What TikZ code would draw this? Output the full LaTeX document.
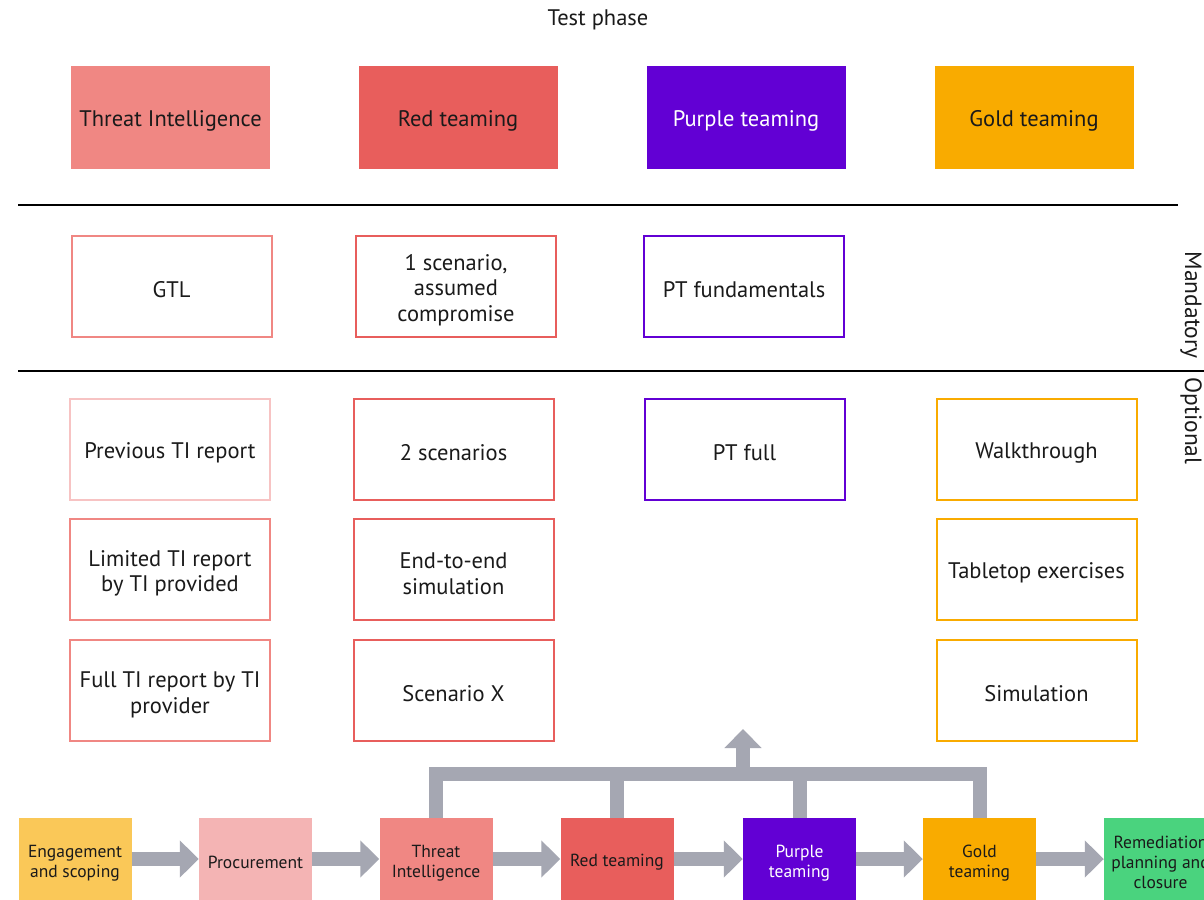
\documentclass[tikz,border=0pt]{standalone}
\usepackage{fontspec}
\setmainfont{PT Sans}
\usetikzlibrary{arrows.meta}
\definecolor{tiC}{HTML}{F08783}
\definecolor{tiL}{HTML}{F7C3C3}
\definecolor{redC}{HTML}{E85E5C}
\definecolor{purC}{HTML}{6200D4}
\definecolor{goldC}{HTML}{F9AB00}
\definecolor{engC}{HTML}{FAC858}
\definecolor{procC}{HTML}{F4B4B4}
\definecolor{remC}{HTML}{4AD37E}
\definecolor{arrC}{HTML}{A5A7B2}
\definecolor{txt}{HTML}{1A1A1A}
\newcommand{\mystrutA}{\rule{0pt}{24pt}}
\newcommand{\mystrutB}{\rule{0pt}{20pt}}
\begin{document}
\begin{tikzpicture}[x=1pt,y=-1pt,
  hdr/.style={rectangle, minimum width=199pt, minimum height=102pt, inner sep=0pt,
    font=\fontsize{22.5}{25.5}\selectfont, text=txt, align=center,
    execute at begin node={\rule{0pt}{23pt}}},
  opt/.style={rectangle, draw, line width=2pt, fill=white, minimum width=200pt,
    minimum height=101pt, inner sep=0pt, font=\fontsize{22.5}{25.5}\selectfont,
    text=txt, align=center, execute at begin node={\rule{0pt}{23pt}}},
  flow/.style={rectangle, minimum width=113pt, minimum height=82pt, inner sep=0pt,
    font=\fontsize{17.5}{20}\selectfont, text=txt, align=center,
    execute at begin node={\rule{0pt}{19pt}}},
  sep/.style={line width=1.3pt, black},
  lab/.style={font=\fontsize{22.5}{24}\selectfont, text=txt},
  rlab/.style={font=\fontsize{23.5}{24}\selectfont, text=txt, rotate=-90},
  flowarrow/.style={arrC, line width=14pt, line cap=butt,
    -{Triangle[width=36pt,length=19pt]}},
  bar/.style={arrC, line width=14pt, line cap=butt, line join=miter}
]
\useasboundingbox (0,0) rectangle (1204,899);
\clip (0,0) rectangle (1204,899);
\fill[white] (0,0) rectangle (1204,899);

% title
\node[lab] (title) at (598,19.5) {Test phase};

% header boxes
\node[hdr, fill=tiC] (hTI) at (170.5,117.5) {Threat Intelligence};
\node[hdr, fill=redC] (hRed) at (458,117.5) {Red teaming};
\node[hdr, fill=purC, text=white] (hPur) at (746,117.5) {Purple teaming};
\node[hdr, fill=goldC] (hGold) at (1034,117.5) {Gold teaming};

% separators
\coordinate (s1a) at (18,205); \coordinate (s1b) at (1178,205);
\coordinate (s2a) at (18,371); \coordinate (s2b) at (1204,371);
\draw[sep] (s1a) -- (s1b);
\draw[sep] (s2a) -- (s2b);

\node[rlab] (mand) at (1191,305) {Mandatory};
\node[rlab] (optl) at (1191,421) {Optional};

% mandatory row
\node[opt, draw=tiC] (gtl) at (171.5,286) {GTL};
\node[opt, draw=redC] (sc1) at (456,286) {\mystrutA 1 scenario,\\assumed\\compromise};
\node[opt, draw=purC] (ptf) at (744,286) {PT fundamentals};

% optional rows
\node[opt, draw=tiL] (prev) at (170,449.5) {Previous TI report};
\node[opt, draw=tiC] (lim) at (170,569.5) {\mystrutA Limited TI report\\by TI provided};
\node[opt, draw=tiC] (full) at (170,690.5) {\mystrutA Full TI report by TI\\provider};

\node[opt, draw=redC] (sc2) at (453.5,449.5) {2 scenarios};
\node[opt, draw=redC] (e2e) at (453.5,569.5) {\mystrutA End-to-end\\simulation};
\node[opt, draw=redC] (scx) at (453.5,690.5) {Scenario X};

\node[opt, draw=purC] (ptfull) at (744.5,449.5) {PT full};

\node[opt, draw=goldC] (walk) at (1036.5,449.5) {Walkthrough};
\node[opt, draw=goldC] (table) at (1036.5,569.5) {Tabletop exercises};
\node[opt, draw=goldC] (sim) at (1036.5,690.5) {Simulation};

% flow boxes
\node[flow, fill=engC] (eng) at (75,859) {\mystrutB Engagement\\and scoping};
\node[flow, fill=procC] (proc) at (255.5,859) {Procurement};
\node[flow, fill=tiC] (fTI) at (436,859) {\mystrutB Threat\\Intelligence};
\node[flow, fill=redC] (fRed) at (617,859) {Red teaming};
\node[flow, fill=purC, text=white] (fPur) at (799.5,859) {\mystrutB Purple\\teaming};
\node[flow, fill=goldC] (fGold) at (979.5,859) {\mystrutB Gold\\teaming};
\node[flow, fill=remC] (rem) at (1160.5,859) {\mystrutB Remediation\\planning and\\closure};

% flow arrows
\draw[flowarrow] (eng.east) -- (proc.west);
\draw[flowarrow] (proc.east) -- (fTI.west);
\draw[flowarrow] (fTI.east) -- (fRed.west);
\draw[flowarrow] (fRed.east) -- (fPur.west);
\draw[flowarrow] (fPur.east) -- (fGold.west);
\draw[flowarrow] (fGold.east) -- (rem.west);

% feedback bar
\coordinate (barY) at (0,774);
\draw[bar] (fTI.north) -- (fTI.north |- barY) -- (fGold.north |- barY) -- (fGold.north);
\draw[bar] (fRed.north) -- (fRed.north |- barY);
\draw[bar] (fPur.north) -- (fPur.north |- barY);
\coordinate (upBase) at (743,774);
\coordinate (upTip) at (743,729);
\draw[flowarrow] (upBase) -- (upTip);
\end{tikzpicture}
\end{document}
